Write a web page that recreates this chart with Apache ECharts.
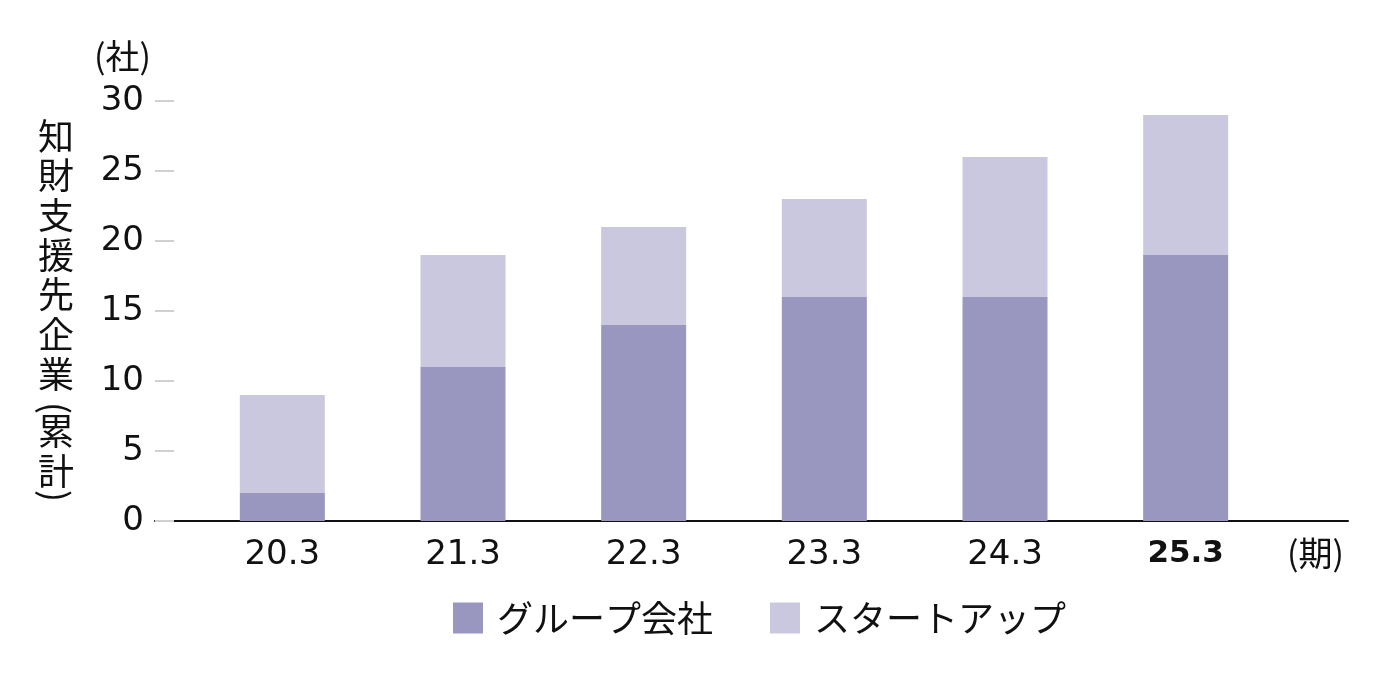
<!DOCTYPE html>
<html>
<head>
<meta charset="utf-8">
<script src="https://cdn.jsdelivr.net/npm/echarts@6/dist/echarts.min.js"></script>
<style>html,body{margin:0;padding:0;background:#fff;}#c{width:1400px;height:699px;}</style>
</head>
<body>
<div id="c"></div>
<script>
const categories = ['20.3', '21.3', '22.3', '23.3', '24.3', '25.3'];
const groupCompanies = [2, 11, 14, 16, 16, 19];
const startups = [7, 8, 7, 7, 10, 10];
const seriesNames = ['グループ会社', 'スタートアップ'];
const yTicks = { min: 0, max: 30, interval: 5 };
const yNameMain = ['知', '財', '支', '援', '先', '企', '業'];
const yNameSub = ['累', '計'];
const yNameParens = ['(', ')'];
const yUnit = '(社)';
const xUnit = '(期)';

const CJK = '"Noto Sans CJK JP", "Noto Sans", sans-serif';
const NUM = '"DejaVu Sans", "Noto Sans", sans-serif';

const hiddenAxisBase = {
  axisLine: { show: false }, axisTick: { show: false }, axisLabel: { show: false }, splitLine: { show: false }
};
const parenAxis = (gridIndex, txt) => Object.assign({
  type: 'value', gridIndex: gridIndex, min: 0, max: 1,
  name: txt, nameLocation: 'middle', nameGap: 0, nameRotate: -90,
  nameTextStyle: { fontSize: 36, lineHeight: 36, fontFamily: CJK, color: '#111' }
}, hiddenAxisBase);

const chart = echarts.init(document.getElementById('c'));
chart.setOption({
  animation: false,
  textStyle: { fontFamily: CJK, color: '#111' },
  grid: [
    { left: 192, right: 124, top: 101, bottom: 178 },
    { left: 155, right: 52, top: 101, bottom: 178 },
    { left: 74, width: 2, top: 403, height: 10 },
    { left: 74, width: 2, top: 491, height: 10 }
  ],
  xAxis: [
    {
      type: 'category', gridIndex: 0, data: categories,
      axisLine: { show: false }, axisTick: { show: false },
      axisLabel: {
        interval: 0, fontSize: 34, margin: 17, color: '#111', fontFamily: NUM,
        formatter: (v, i) => i === categories.length - 1 ? '{b|' + v + '}' : v,
        rich: { b: { fontSize: 31, fontWeight: 'bold', color: '#111', fontFamily: NUM } }
      }
    },
    {
      type: 'value', gridIndex: 1, min: 0, max: 1,
      axisLine: { show: true, lineStyle: { color: '#111', width: 2 } },
      axisTick: { show: false }, axisLabel: { show: false }, splitLine: { show: false }
    },
    Object.assign({ type: 'value', gridIndex: 2, min: 0, max: 1 }, hiddenAxisBase),
    Object.assign({ type: 'value', gridIndex: 3, min: 0, max: 1 }, hiddenAxisBase)
  ],
  yAxis: [
    {
      type: 'value', gridIndex: 0, min: yTicks.min, max: yTicks.max, interval: yTicks.interval,
      show: false
    },
    {
      type: 'value', gridIndex: 1, min: yTicks.min, max: yTicks.max, interval: yTicks.interval,
      axisLine: { show: false },
      axisTick: { show: true, inside: true, length: 19, lineStyle: { color: '#d0d0d0', width: 2 } },
      axisLabel: { fontSize: 34, margin: 11, color: '#111', fontFamily: NUM, padding: [6, 0, 0, 0] },
      splitLine: { show: false }
    },
    parenAxis(2, yNameParens[0]),
    parenAxis(3, yNameParens[1])
  ],
  legend: {
    left: 453, top: 600, padding: 0,
    itemWidth: 30, itemHeight: 31, itemGap: 57,
    icon: 'rect',
    textStyle: { fontSize: 36, color: '#111', fontFamily: CJK, padding: [0, 0, 0, 9] },
    data: seriesNames
  },
  series: [
    {
      name: seriesNames[0], type: 'bar', stack: 'total', xAxisIndex: 0, yAxisIndex: 0,
      barWidth: 85, data: groupCompanies, itemStyle: { color: '#9996bf' }
    },
    {
      name: seriesNames[1], type: 'bar', stack: 'total', xAxisIndex: 0, yAxisIndex: 0,
      barWidth: 85, data: startups, itemStyle: { color: '#cac8df' }
    }
  ],
  graphic: [
    { type: 'text', left: 94, top: 39, style: { text: yUnit, font: '34px ' + CJK, fill: '#111' } },
    { type: 'text', left: 1287, top: 536, style: { text: xUnit, font: '34px ' + CJK, fill: '#111' } },
    { type: 'text', x: 56, y: 116, style: {
        text: yNameMain.join('\n'), font: '36px ' + CJK, lineHeight: 39.7, fill: '#111', align: 'center', verticalAlign: 'top'
      } },
    { type: 'text', x: 56, y: 411, style: {
        text: yNameSub.join('\n'), font: '36px ' + CJK, lineHeight: 40, fill: '#111', align: 'center', verticalAlign: 'top'
      } }
  ]
});
</script>
</body>
</html>
